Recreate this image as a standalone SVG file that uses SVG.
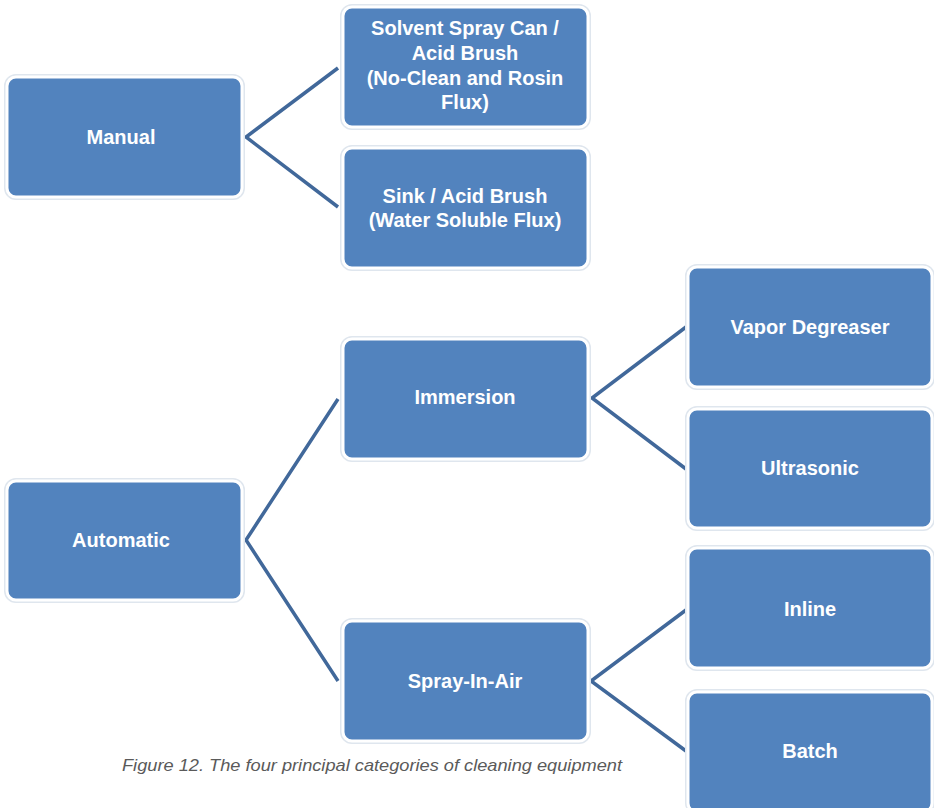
<svg xmlns="http://www.w3.org/2000/svg" width="934" height="808" viewBox="0 0 934 808">
<style>
.box{fill:#5283BE;stroke:#ffffff;stroke-width:3}
.halo{fill:none;stroke:#dfe6ee;stroke-width:6}
.lbl{font-family:"Liberation Sans",Arial,sans-serif;font-weight:bold;font-size:20px;fill:#ffffff;text-anchor:middle}
.conn{stroke:#41689A;stroke-width:3.5;fill:none;stroke-linejoin:miter}
.cap{font-family:"Liberation Sans",Arial,sans-serif;font-style:italic;font-size:17px;fill:#5a5a5a}
</style>
<rect width="934" height="808" fill="#ffffff"/>
<g id="connectors">
<polyline class="conn" points="338,68 246,137 338,207"/>
<polyline class="conn" points="338,399 246,540 338,681"/>
<polyline class="conn" points="686,327 592,398 686,469"/>
<polyline class="conn" points="686,610 591,681 686,751"/>
</g>
<g id="manual">
<rect class="halo" x="7" y="77" width="235" height="120" rx="9"/>
<rect class="box" x="7" y="77" width="235" height="120" rx="9"/>
<text class="lbl" x="121" y="144">Manual</text>
</g>
<g id="solvent">
<rect class="halo" x="343" y="7" width="245" height="120" rx="9"/>
<rect class="box" x="343" y="7" width="245" height="120" rx="9"/>
<text class="lbl" x="465" y="35">Solvent Spray Can /</text>
<text class="lbl" x="465" y="60">Acid Brush</text>
<text class="lbl" x="465" y="85">(No-Clean and Rosin</text>
<text class="lbl" x="465" y="109">Flux)</text>
</g>
<g id="sink">
<rect class="halo" x="343" y="148" width="245" height="120" rx="9"/>
<rect class="box" x="343" y="148" width="245" height="120" rx="9"/>
<text class="lbl" x="465" y="203">Sink / Acid Brush</text>
<text class="lbl" x="465" y="227">(Water Soluble Flux)</text>
</g>
<g id="automatic">
<rect class="halo" x="7" y="481" width="235" height="119" rx="9"/>
<rect class="box" x="7" y="481" width="235" height="119" rx="9"/>
<text class="lbl" x="121" y="547">Automatic</text>
</g>
<g id="immersion">
<rect class="halo" x="343" y="339" width="245" height="120" rx="9"/>
<rect class="box" x="343" y="339" width="245" height="120" rx="9"/>
<text class="lbl" x="465" y="404">Immersion</text>
</g>
<g id="spray">
<rect class="halo" x="343" y="621" width="245" height="120" rx="9"/>
<rect class="box" x="343" y="621" width="245" height="120" rx="9"/>
<text class="lbl" x="465" y="688">Spray-In-Air</text>
</g>
<g id="vapor">
<rect class="halo" x="688" y="267" width="244" height="120" rx="9"/>
<rect class="box" x="688" y="267" width="244" height="120" rx="9"/>
<text class="lbl" x="810" y="334">Vapor Degreaser</text>
</g>
<g id="ultrasonic">
<rect class="halo" x="688" y="409" width="244" height="119" rx="9"/>
<rect class="box" x="688" y="409" width="244" height="119" rx="9"/>
<text class="lbl" x="810" y="475">Ultrasonic</text>
</g>
<g id="inline">
<rect class="halo" x="688" y="548" width="244" height="120" rx="9"/>
<rect class="box" x="688" y="548" width="244" height="120" rx="9"/>
<text class="lbl" x="810" y="616">Inline</text>
</g>
<g id="batch">
<rect class="halo" x="688" y="692" width="244" height="120" rx="9"/>
<rect class="box" x="688" y="692" width="244" height="120" rx="9"/>
<text class="lbl" x="810" y="758">Batch</text>
</g>
<text class="cap" x="122" y="771" textLength="500" lengthAdjust="spacingAndGlyphs">Figure 12. The four principal categories of cleaning equipment</text>
</svg>
